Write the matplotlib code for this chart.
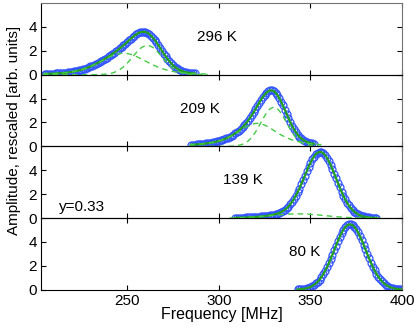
import numpy as np
import matplotlib
matplotlib.use('Agg')
import matplotlib.pyplot as plt

plt.rcParams['font.family'] = ['Liberation Sans', 'DejaVu Sans']

# ---- data ----
temps = ['296 K', '209 K', '139 K', '80 K']
xticks = [250, 300, 350, 400]
yticks = [0, 2, 4]

# measured amplitudes, 1 MHz steps, starting frequency per panel
start_296 = 205
amp_296 = [0.07,0.07,0.08,0.08,0.09,0.09,0.1,0.11,0.12,0.13,0.14,0.16,0.18,0.19,0.22,0.24,0.27,0.3,0.33,0.37,
           0.41,0.46,0.51,0.57,0.63,0.69,0.76,0.83,0.91,0.99,1.07,1.15,1.24,1.34,1.43,1.53,1.63,1.74,1.85,1.96,
           2.08,2.2,2.32,2.45,2.59,2.73,2.87,3,3.14,3.26,3.37,3.47,3.54,3.58,3.59,3.57,3.51,3.41,3.27,3.11,
           2.92,2.7,2.47,2.24,2,1.76,1.54,1.32,1.13,0.95,0.8,0.66,0.55,0.45,0.37,0.3,0.25,0.21,0.18,0.15,
           0.13,0.11,0.1]
start_209 = 285
amp_209 = [0.14,0.15,0.15,0.16,0.18,0.19,0.2,0.22,0.24,0.26,0.28,0.31,0.34,0.37,0.41,0.45,0.49,0.55,0.6,0.67,
           0.74,0.81,0.9,0.99,1.09,1.2,1.32,1.46,1.61,1.77,1.95,2.15,2.37,2.6,2.84,3.1,3.37,3.63,3.88,4.12,
           4.32,4.49,4.61,4.68,4.68,4.62,4.49,4.29,4.05,3.75,3.42,3.08,2.72,2.37,2.04,1.73,1.45,1.2,0.99,0.81,
           0.67,0.55,0.45,0.38,0.32,0.27,0.24,0.21]
start_139 = 309
amp_139 = [0.02,0.02,0.03,0.03,0.04,0.04,0.05,0.05,0.06,0.07,0.08,0.09,0.1,0.12,0.13,0.14,0.16,0.18,0.2,0.23,
           0.25,0.29,0.33,0.37,0.43,0.5,0.59,0.69,0.82,0.96,1.14,1.35,1.58,1.85,2.15,2.47,2.82,3.18,3.55,3.92,
           4.28,4.61,4.9,5.15,5.35,5.48,5.53,5.52,5.43,5.27,5.05,4.77,4.45,4.1,3.72,3.33,2.94,2.56,2.2,1.87,
           1.56,1.29,1.05,0.85,0.67,0.53,0.41,0.31,0.23,0.17,0.13,0.09,0.07,0.05,0.03,0.02,0.02,0.01]
start_80 = 343
amp_80 = [0.02,0.03,0.05,0.07,0.09,0.13,0.17,0.23,0.31,0.41,0.53,0.67,0.85,1.06,1.29,1.57,1.87,2.2,2.56,2.93,
          3.32,3.7,4.07,4.43,4.74,5.01,5.23,5.38,5.46,5.46,5.4,5.26,5.06,4.8,4.49,4.15,3.78,3.39,3.01,2.63,
          2.27,1.93,1.62,1.35,1.1,0.89,0.71,0.55,0.43,0.33,0.25,0.18,0.14,0.1,0.07,0.05,0.03,0.02]

# fitted sub-components (dashed), 2 MHz steps
comp_start_296 = 204
comp_a_296 = [0.06,0.07,0.08,0.09,0.11,0.13,0.16,0.19,0.24,0.3,0.37,0.46,0.57,0.69,0.83,0.98,1.14,1.3,1.45,1.59,
              1.7,1.77,1.8,1.77,1.7,1.59,1.45,1.3,1.14,0.98,0.83,0.69,0.57,0.46,0.37,0.3,0.24,0.19,0.16,0.13,
              0.11,0.09,0.08,0.07,0.06,0.06]
comp_b_296 = [0,0,0,0,0,0,0,0,0,0,0,0,0,0,0,0.01,0.02,0.04,0.08,0.14,0.26,0.42,0.65,0.95,1.3,1.67,2.02,2.29,
              2.43,2.43,2.29,2.02,1.67,1.3,0.95,0.65,0.42,0.26,0.14,0.08,0.04,0.02,0.01,0,0,0]
comp_start_209 = 284
comp_a_209 = [0.13,0.15,0.16,0.19,0.22,0.26,0.31,0.37,0.45,0.54,0.66,0.8,0.96,1.14,1.34,1.53,1.71,1.84,1.92,1.92,
              1.84,1.71,1.53,1.34,1.14,0.96,0.8,0.66,0.54,0.45,0.37,0.31,0.26,0.22,0.19,0.16,0.15]
comp_b_209 = [0,0,0,0,0,0,0,0,0,0,0,0.01,0.02,0.06,0.12,0.24,0.44,0.75,1.18,1.71,2.27,2.79,3.15,3.28,3.15,
              2.79,2.27,1.71,1.18,0.75,0.44,0.24,0.12,0.06,0.02,0.01,0]
comp_start_139 = 306
comp_c_139 = [0.01,0.02,0.02,0.03,0.04,0.05,0.07,0.09,0.11,0.14,0.17,0.2,0.23,0.26,0.28,0.31,0.33,0.34,0.35,0.35,
              0.34,0.33,0.31,0.28,0.26,0.23,0.2,0.17,0.14,0.11,0.09,0.07,0.05,0.04,0.03,0.02,0.02,0.01,0.01,0,
              0,0]

label_x = [288, 279, 302.3, 338.1]
note_text = 'y=0.33'

# ---- figure ----
def grid(start, vals, step):
    return start + step * np.arange(len(vals))

panels = [
    (grid(start_296, amp_296, 1), amp_296,
     [(grid(comp_start_296, comp_a_296, 2), comp_a_296), (grid(comp_start_296, comp_b_296, 2), comp_b_296)]),
    (grid(start_209, amp_209, 1), amp_209,
     [(grid(comp_start_209, comp_a_209, 2), comp_a_209), (grid(comp_start_209, comp_b_209, 2), comp_b_209)]),
    (grid(start_139, amp_139, 1), amp_139,
     [(grid(comp_start_139, comp_c_139, 2), comp_c_139)]),
    (grid(start_80, amp_80, 1), amp_80, []),
]

fig = plt.figure(figsize=(4.15, 3.27), dpi=100)
left = 41/415; right = 402/415; top = 1-3/327; bottom = 1-289.7/327
h = (top-bottom)/4
blue = '#3355ff'; green = '#22a022'; lgreen = '#44cc44'

for i, (x, d, comps) in enumerate(panels):
    ax = fig.add_axes([left, top-(i+1)*h, right-left, h])
    ax.plot(x, d, 'o', mfc='none', mec=blue, ms=5, mew=0.9, zorder=2)
    ax.plot(x, d, '-', color=green, lw=1.6, zorder=3)
    for cx, cy in comps:
        ax.plot(cx, cy, '--', color=lgreen, lw=1, dashes=(4, 3), zorder=4)
    ax.text(label_x[i], 3.15, temps[i], fontsize=11, va='center', ha='left')
    if i == 2:
        ax.text(213, 0.95, note_text, fontsize=11, va='center', ha='left')
    ax.set_xlim(203, 400); ax.set_ylim(0, 6)
    ax.set_yticks(yticks); ax.set_xticks(xticks)
    ax.tick_params(direction='in', top=True, right=True, length=3.5, labelsize=11, pad=3)
    ax.spines['right'].set_color('0.45')
    ax.spines['top'].set_color('0.45' if i == 0 else 'black')
    ax.patch.set_alpha(0)
    if i < 3:
        ax.tick_params(labelbottom=False)

fig.text(14.5/415, 1-130.5/327, 'Amplitude, rescaled [arb. units]', rotation=90,
         fontsize=11, ha='center', va='center')
fig.text(221.7/415, 1-315/327, 'Frequency [MHz]', fontsize=11.5, ha='center', va='center')
fig.savefig('out.png', dpi=100)
